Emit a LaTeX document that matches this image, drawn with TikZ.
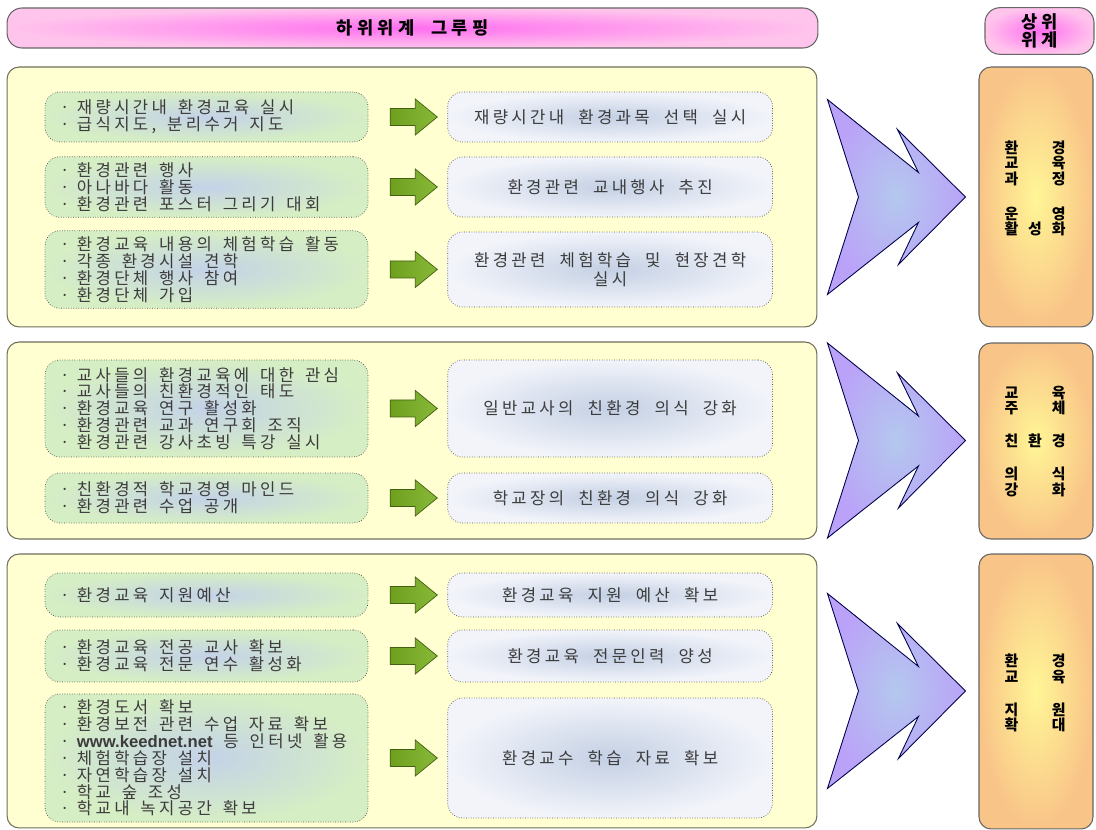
\documentclass[tikz,border=0pt]{standalone}
\usepackage{fontspec}
\newfontfamily\krfont[LetterSpace=20,WordSpace=2]{Noto Sans CJK KR}
\newfontfamily\urlfont{Liberation Sans}
\usetikzlibrary{positioning,calc}
\definecolor{panelfill}{RGB}{255,255,210}
\definecolor{panelline}{RGB}{110,110,90}
\definecolor{itemin}{RGB}{196,210,232}
\definecolor{itemout}{RGB}{214,238,196}
\definecolor{goalin}{RGB}{196,208,228}
\definecolor{goalout}{RGB}{242,244,250}
\definecolor{upin}{RGB}{255,246,150}
\definecolor{upout}{RGB}{249,196,136}
\definecolor{headin}{RGB}{255,110,240}
\definecolor{headout}{RGB}{255,196,236}
\definecolor{chevin}{RGB}{180,200,238}
\definecolor{chevout}{RGB}{186,162,248}
\definecolor{arrleft}{RGB}{110,160,30}
\definecolor{arrmid}{RGB}{196,208,222}
\definecolor{arrright}{RGB}{136,184,56}
\definecolor{textgray}{RGB}{60,60,60}
\newcommand{\spreadrow}[1]{\makebox[1.22cm][s]{#1}}
\newcommand{\bul}{·\hspace{0.45em}}
\tikzset{
  grouppanel/.style={draw=panelline,fill=panelfill,rounded corners=0.24cm,
    line width=0.6pt,minimum width=16.2cm},
  lowitem/.style={draw=black!70,densely dotted,rounded corners=0.3cm,
    inner color=itemin,outer color=itemout,minimum width=6.46cm,
    text width=5.86cm,align=left,text=textgray,
    font=\krfont\fontsize{9.5}{9.6}\selectfont,
    execute at begin node={\spaceskip=0.65em plus 0.2em minus 0.1em\relax}},
  goalbox/.style={draw=black!70,densely dotted,rounded corners=0.3cm,
    inner color=goalin,outer color=goalout,minimum width=6.5cm,
    align=center,text=textgray,font=\krfont\fontsize{9.5}{11}\selectfont},
  upperbox/.style={draw=black!60,rounded corners=0.24cm,line width=0.6pt,
    inner color=upin,outer color=upout,minimum width=2.28cm},
  uppertext/.style={align=center,font=\krfont\bfseries\fontsize{8.5}{8.8}\selectfont},
  headbar/.style={draw=black!60,rounded corners=0.3cm,line width=0.6pt,
    inner color=headin,outer color=headout,
    font=\krfont\bfseries\fontsize{10}{10.5}\selectfont},
  greenarrow/.style={draw=arrleft!60!black,line width=0.4pt,
    left color=arrleft,middle color=arrmid,right color=arrright},
  chevron/.style={draw=black!70!blue,line width=0.5pt,
    inner color=chevin,outer color=chevout}
}
\begin{document}
\begin{tikzpicture}[x=0.02cm,y=-0.02cm,node distance=1.58cm]
  \useasboundingbox (0,0) rectangle (1096,830);
  % headings
  \node[headbar,minimum width=16.22cm,minimum height=0.8cm] (low) at (412.5,28)
    {\addfontfeature{LetterSpace=25}하위위계 그루핑};
  \node[headbar,minimum width=2.18cm,minimum height=0.88cm,align=center] (up) at (1039.5,31)
    {상위\\위계};
  % panels
  \node[grouppanel,minimum height=5.2cm] (p1) at (412,197) {};
  \node[grouppanel,minimum height=3.94cm] (p2) at (412,440.5) {};
  \node[grouppanel,minimum height=5.48cm] (p3) at (412,691) {};
  % lower level items
  \node[lowitem,minimum height=1cm] (l1) at (206.5,117)
    {\bul 재량시간내 환경교육 실시\\ \bul 급식지도, 분리수거 지도};
  \node[lowitem,minimum height=1.2cm] (l2) at (206.5,187)
    {\bul 환경관련 행사\\ \bul 아나바다 활동\\ \bul 환경관련 포스터 그리기 대회};
  \node[lowitem,minimum height=1.5cm] (l3) at (206.5,269.5)
    {\bul 환경교육 내용의 체험학습 활동\\ \bul 각종 환경시설 견학\\ \bul 환경단체 행사 참여\\ \bul 환경단체 가입};
  \node[lowitem,minimum height=1.94cm] (l4) at (206.5,408.5)
    {\bul 교사들의 환경교육에 대한 관심\\ \bul 교사들의 친환경적인 태도\\ \bul 환경교육 연구 활성화\\
     \bul 환경관련 교과 연구회 조직\\ \bul 환경관련 강사초빙 특강 실시};
  \node[lowitem,minimum height=1cm] (l5) at (206.5,498)
    {\bul 친환경적 학교경영 마인드\\ \bul 환경관련 수업 공개};
  \node[lowitem,minimum height=0.88cm] (l6) at (206.5,595)
    {\bul 환경교육 지원예산};
  \node[lowitem,minimum height=1.04cm] (l7) at (206.5,656)
    {\bul 환경교육 전공 교사 확보\\ \bul 환경교육 전문 연수 활성화};
  \node[lowitem,minimum height=2.4cm] (l8) at (206.5,758)
    {\bul 환경도서 확보\\ \bul 환경보전 관련 수업 자료 확보\\ \bul {\urlfont\bfseries www.keednet.net} 등 인터넷 활용\\
     \bul 체험학습장 설치\\ \bul 자연학습장 설치\\ \bul 학교 숲 조성\\ \bul 학교내 녹지공간 확보};
  % grouped goals
  \node[goalbox,minimum height=1cm,right=of l1] (r1) {재량시간내 환경과목 선택 실시};
  \node[goalbox,minimum height=1.2cm,right=of l2] (r2) {환경관련 교내행사 추진};
  \node[goalbox,minimum height=1.5cm,right=of l3] (r3) {환경관련 체험학습 및 현장견학\\실시};
  \node[goalbox,minimum height=1.94cm,right=of l4] (r4) {일반교사의 친환경 의식 강화};
  \node[goalbox,minimum height=1cm,right=of l5] (r5) {학교장의 친환경 의식 강화};
  \node[goalbox,minimum height=0.88cm,right=of l6] (r6) {환경교육 지원 예산 확보};
  \node[goalbox,minimum height=1.04cm,right=of l7] (r7) {환경교육 전문인력 양성};
  \node[goalbox,minimum height=2.4cm,right=of l8] (r8) {환경교수 학습 자료 확보};
  % upper level
  \node[upperbox,minimum height=5.2cm] (o1) at (1036,197) {};
  \node[upperbox,minimum height=3.92cm] (o2) at (1036,441) {};
  \node[upperbox,minimum height=5.5cm] (o3) at (1036,691.5) {};
  \node[uppertext] (ot1) at (1035,188.5)
    {\spreadrow{환\hfill 경}\\ \spreadrow{교\hfill 육}\\ \spreadrow{과\hfill 정}\\[0.39cm]
     \spreadrow{운\hfill 영}\\ \spreadrow{활\hfill 성\hfill 화}};
  \node[uppertext] (ot2) at (1035,441.5)
    {\spreadrow{교\hfill 육}\\ \spreadrow{주\hfill 체}\\[0.35cm] \spreadrow{친\hfill 환\hfill 경}\\[0.35cm]
     \spreadrow{의\hfill 식}\\ \spreadrow{강\hfill 화}};
  \node[uppertext] (ot3) at (1035,693)
    {\spreadrow{환\hfill 경}\\ \spreadrow{교\hfill 육}\\[0.35cm]
     \spreadrow{지\hfill 원}\\ \spreadrow{확\hfill 대}};
  % arrows
  \foreach \i in {1,...,8}
    \path[greenarrow] ($(l\i.east)+(22,-8.5)$) -- ++(25,0) -- ++(0,-9.5) -- ++(22,18)
      -- ++(-22,18) -- ++(0,-9.5) -- ++(-25,0) -- cycle;
  \foreach \i in {1,2,3}
    \path[chevron] ($(p\i.east)+(10,-97.5)$) -- ++(91,73) -- ++(-21,-43) -- ++(68,67.5)
      -- ++(-67,67.5) -- ++(20,-42) -- ++(-91,72) -- ++(31,-97.5) -- cycle;
\end{tikzpicture}
\end{document}
